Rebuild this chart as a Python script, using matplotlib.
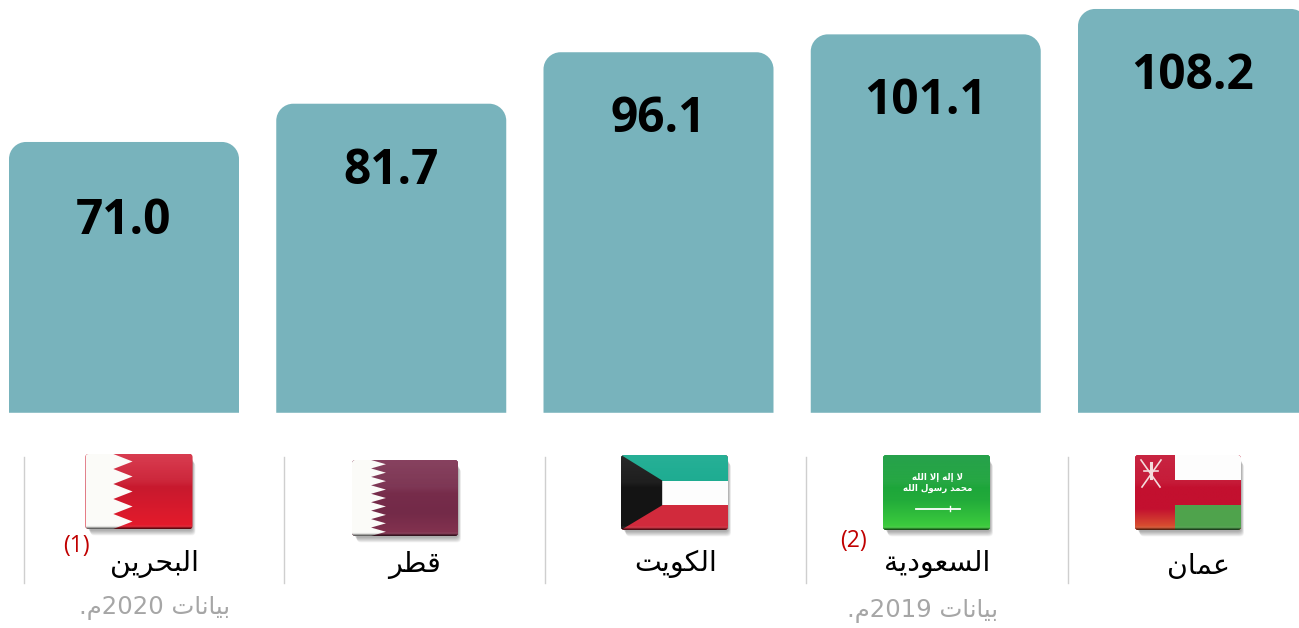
import numpy as np
import matplotlib
matplotlib.use('Agg')
import matplotlib.pyplot as plt
from matplotlib.patches import FancyBboxPatch, PathPatch, Polygon
from matplotlib.path import Path
from matplotlib.colors import to_rgb

plt.rcParams['font.family'] = ['DejaVu Sans']

# data, left to right as in the picture
countries = ['البحرين', 'قطر', 'الكويت', 'السعودية', 'عمان']
values = [71.0, 81.7, 96.1, 101.1, 108.2]
value_labels = ['71.0', '81.7', '96.1', '101.1', '108.2']
note_2020 = ['بيانات', '2020', 'م.']
note_2019 = ['بيانات', '2019', 'م.']
notes = ['(1)', '(2)']

BAR_COLOR = '#78b3bc'

# isolated, final, initial, medial
FORMS = {
    'ا': (0xFE8D, 0xFE8E, None, None), 'أ': (0xFE83, 0xFE84, None, None),
    'إ': (0xFE87, 0xFE88, None, None), 'ب': (0xFE8F, 0xFE90, 0xFE91, 0xFE92),
    'ة': (0xFE93, 0xFE94, None, None), 'ت': (0xFE95, 0xFE96, 0xFE97, 0xFE98),
    'ح': (0xFEA1, 0xFEA2, 0xFEA3, 0xFEA4), 'د': (0xFEA9, 0xFEAA, None, None),
    'ر': (0xFEAD, 0xFEAE, None, None), 'س': (0xFEB1, 0xFEB2, 0xFEB3, 0xFEB4),
    'ط': (0xFEC1, 0xFEC2, 0xFEC3, 0xFEC4), 'ع': (0xFEC9, 0xFECA, 0xFECB, 0xFECC),
    'ق': (0xFED5, 0xFED6, 0xFED7, 0xFED8), 'ك': (0xFED9, 0xFEDA, 0xFEDB, 0xFEDC),
    'ل': (0xFEDD, 0xFEDE, 0xFEDF, 0xFEE0), 'م': (0xFEE1, 0xFEE2, 0xFEE3, 0xFEE4),
    'ن': (0xFEE5, 0xFEE6, 0xFEE7, 0xFEE8), 'ه': (0xFEE9, 0xFEEA, 0xFEEB, 0xFEEC),
    'و': (0xFEED, 0xFEEE, None, None), 'ي': (0xFEF1, 0xFEF2, 0xFEF3, 0xFEF4),
    '\uFEFB': (0xFEFB, 0xFEFC, None, None), '\uFEF7': (0xFEF7, 0xFEF8, None, None),
    '\uFEF9': (0xFEF9, 0xFEFA, None, None),
}


# matplotlib does no arabic shaping, so pick the joined forms and reverse by hand
def shape(word):
    word = word.replace('لا', '\uFEFB').replace('لإ', '\uFEF9').replace('لأ', '\uFEF7')
    out = []
    for i, ch in enumerate(word):
        if ch not in FORMS:
            out.append(ch)
            continue
        before = i > 0 and word[i - 1] in FORMS and FORMS[word[i - 1]][2] is not None
        after = i < len(word) - 1 and word[i + 1] in FORMS and FORMS[ch][2] is not None
        form = FORMS[ch][(1 if before else 0) if not after else (3 if before else 2)]
        out.append(chr(form))
    return ''.join(reversed(out))


def note_text(parts):
    return '.' + shape('م') + parts[1] + ' ' + shape(parts[0])


fig = plt.figure(figsize=(12.99, 6.28), dpi=100, facecolor='white')

# bars: value axis does not start at zero in the original
ax = fig.add_axes([0, 0, 1, 1])
ax.set_xlim(-124 / 267.25, (1299 - 124) / 267.25)
ax.set_ylim((395.8 - 628) / 3.575, 395.8 / 3.575)
ax.axis('off')
BASE = -4.75
bars = ax.bar(range(len(values)), np.array(values) - BASE, bottom=BASE, width=0.8606,
              color=BAR_COLOR, visible=False)

# round the top corners of each bar, radius is in pixels
rx = 17 / 267.25
ry = 17 / 3.575
for b in bars:
    x0, x1 = b.get_x(), b.get_x() + b.get_width()
    y0, y1 = b.get_y(), b.get_y() + b.get_height()
    k = 0.45
    verts = [(x0, y0), (x0, y1 - ry), (x0, y1 - ry * k), (x0 + rx * k, y1), (x0 + rx, y1),
             (x1 - rx, y1), (x1 - rx * k, y1), (x1, y1 - ry * k), (x1, y1 - ry), (x1, y0), (x0, y0)]
    codes = [Path.MOVETO, Path.LINETO, Path.CURVE4, Path.CURVE4, Path.CURVE4,
             Path.LINETO, Path.CURVE4, Path.CURVE4, Path.CURVE4, Path.LINETO, Path.CLOSEPOLY]
    ax.add_patch(PathPatch(Path(verts, codes), facecolor=BAR_COLOR, edgecolor='none'))

# everything else sits in a pixel overlay
ov = fig.add_axes([0, 0, 1, 1])
ov.patch.set_alpha(0)
ov.axis('off')
ov.set_xlim(0, 1299)
ov.set_ylim(628, 0)

value_xy = [(124, 215.5), (391, 165.5), (658, 113.5), (926, 95.5), (1193, 70.5)]
for (x, y), s in zip(value_xy, value_labels):
    ov.text(x, y, s, ha='center', va='center_baseline', fontsize=34.5, fontweight='bold',
            family='Open Sans', color='black')

for x in [24, 284.5, 545, 806, 1068]:
    ov.plot([x, x], [457, 583], color='#cfcfcf', lw=1)

name_xy = [(155, 564), (415, 565), (676, 564), (937, 564), (1199, 566)]
for (x, y), s in zip(name_xy, countries):
    ov.text(x, y, shape(s), ha='center', va='center', fontsize=20.5, color='black')

ov.text(76, 546, notes[0], ha='center', va='center', fontsize=16.5, color='#c00000', family='Open Sans')
ov.text(854, 541, notes[1], ha='center', va='center', fontsize=16.5, color='#c00000', family='Open Sans')
ov.text(155, 608, note_text(note_2020), ha='center', va='center', fontsize=17.6, color='#a6a6a6')
ov.text(923, 611, note_text(note_2019), ha='center', va='center', fontsize=17.6, color='#a6a6a6')


def gradient(clip, box, stops):
    # stops: (position, colour, alpha) from top to bottom
    pos = np.linspace(0, 1, 64)
    rgba = np.zeros((64, 1, 4))
    for c in range(3):
        rgba[:, 0, c] = np.interp(pos, [s[0] for s in stops], [to_rgb(s[1])[c] for s in stops])
    rgba[:, 0, 3] = np.interp(pos, [s[0] for s in stops], [s[2] for s in stops])
    x, y, w, h = box
    im = ov.imshow(rgba, extent=(x, x + w, y + h, y), aspect='auto', zorder=4, interpolation='bilinear')
    im.set_clip_path(clip)


def flag(x, y, w, h, base, shapes, tint=None):
    # soft shadow, down and to the right
    for i in range(10, 0, -1):
        ov.add_patch(FancyBboxPatch((x + 2 + i * 0.3, y + 3 + i * 0.55), w - 2, h - 2,
                                    boxstyle='round,pad=0,rounding_size=4', fc='black',
                                    ec='none', alpha=0.035, zorder=2))
    clip = FancyBboxPatch((x, y), w, h, boxstyle='round,pad=0,rounding_size=3',
                          fc=base, ec='none', zorder=3)
    ov.add_patch(clip)
    if tint:
        gradient(clip, (x, y, w, h), tint)
    for pts, col in shapes:
        p = Polygon([(x + a * w, y + b * h) for a, b in pts], closed=True, fc=col, ec='none', zorder=4)
        ov.add_patch(p)
        p.set_clip_path(clip)
    # gloss and dark lower edge
    gradient(clip, (x, y, w, h), [(0, 'white', 0.09), (0.36, 'white', 0.05), (0.44, 'white', 0.0),
                                  (0.96, 'white', 0.0), (0.985, 'black', 0.3), (1, 'black', 0.6)])
    return clip


def teeth(base_x, tip_x, n):
    pts = [(0, 0), (base_x, 0)]
    for i in range(n):
        pts += [(tip_x, (i + 0.5) / n), (base_x, (i + 1) / n)]
    return pts + [(0, 1)]


flag(85.5, 454, 107, 75, '#d01c30', [(teeth(0.26, 0.44, 5), '#fbfbf8')],
     [(0, '#d52a40', 1), (0.45, '#c8192e', 1), (1, '#e61b2b', 1)])
flag(352, 460, 106, 76, '#792d4c', [(teeth(0.18, 0.32, 9), '#fbfbf8')],
     [(0, '#7c3050', 1), (0.7, '#732a48', 1), (1, '#853350', 1)])
flag(621, 455, 107, 75, '#d12a3c', [
    ([(0, 0), (1, 0), (1, 0.34), (0, 0.34)], '#12a88c'),
    ([(0, 0.34), (1, 0.34), (1, 0.67), (0, 0.67)], '#fdfdfd'),
    ([(0, 0), (0.385, 0.34), (0.385, 0.67), (0, 1)], '#141414')])
flag(883, 455, 107, 75, '#1da03a', [],
     [(0, '#12993a', 1), (0.6, '#22ab3a', 1), (1, '#40d03e', 1)])
flag(1135, 455, 106, 75, '#c3102f', [
    ([(0.38, 0), (1, 0), (1, 0.33), (0.38, 0.33)], '#fdfdfd'),
    ([(0.38, 0.67), (1, 0.67), (1, 1), (0.38, 1)], '#4fa34c')],
     [(0, '#c3102f', 1), (0.72, '#c3102f', 1), (1, '#dc5a30', 1)])

# saudi script and sword
shahada = [['لا', 'إله', 'إلا', 'الله'], ['محمد', 'رسول', 'الله']]
ov.text(938, 478, ' '.join(shape(w) for w in reversed(shahada[0])), ha='center', va='center',
        fontsize=6.2, fontweight='bold', color='white', zorder=6)
ov.text(938, 488, ' '.join(shape(w) for w in reversed(shahada[1])), ha='center', va='center',
        fontsize=6.2, fontweight='bold', color='white', zorder=6)
ov.plot([916, 960], [508.5, 508.5], color='white', lw=1.3, zorder=6)
ov.plot([950, 950], [506, 511], color='white', lw=1, zorder=6)

# oman emblem
for xs, ys in [([1141, 1160], [460, 487]), ([1161, 1142], [460, 487]), ([1144, 1158], [471, 471])]:
    ov.plot(xs, ys, color='#f4dcdc', lw=1.2, zorder=6)
ov.plot([1151, 1151], [463, 478], color='#f4dcdc', lw=2.2, zorder=6)

ov.set_xlim(0, 1299)
ov.set_ylim(628, 0)

fig.savefig('out.png', dpi=100)
